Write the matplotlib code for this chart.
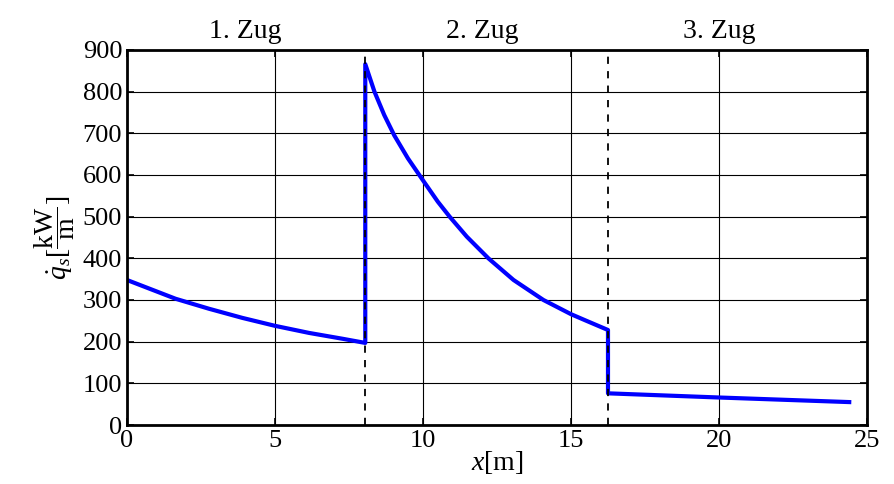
import matplotlib
matplotlib.use("Agg")
import matplotlib.pyplot as plt

plt.rcParams['font.family'] = ['Liberation Serif', 'DejaVu Serif']
plt.rcParams['mathtext.fontset'] = 'custom'
plt.rcParams['mathtext.rm'] = 'Liberation Serif'
plt.rcParams['mathtext.it'] = 'Liberation Serif:italic'

# Werte
x_zug1 = [0.0, 0.62, 1.64, 2.77, 3.9, 5.0, 6.15, 7.28, 8.05]
q_zug1 = [348, 331, 303, 279, 257, 238, 221, 207, 197]

x_zug2 = [8.05, 8.36, 8.69, 9.03, 9.49, 10.03, 10.5, 10.9, 11.48,
          12.21, 13.06, 14.07, 15.0, 15.49, 16.25]
q_zug2 = [866, 800, 744, 695, 640, 584, 536, 500, 452,
          400, 348, 300, 266, 251, 228]

x_zug3 = [16.25, 20.0, 24.4]
q_zug3 = [76, 66, 55]

grenzen = [8.05, 16.25]
zug_labels = ['1. Zug', '2. Zug', '3. Zug']
zug_pos = [4, 12, 20]

x_ticks = [0, 5, 10, 15, 20, 25]
y_ticks = [0, 100, 200, 300, 400, 500, 600, 700, 800, 900]

x_all = x_zug1 + x_zug2 + x_zug3
q_all = q_zug1 + q_zug2 + q_zug3

fig, ax = plt.subplots(figsize=(8.95, 4.84), dpi=100)
fig.subplots_adjust(left=0.1419, right=0.9687, top=0.8967, bottom=0.1219)

ax.grid(True, color='black', lw=0.8)
ax.set_axisbelow(True)
for g in grenzen:
    ax.axvline(g, color='black', ls=(0, (4, 4)), lw=1.3, zorder=3)
ax.plot(x_all, q_all, color='#0000ff', lw=3, zorder=2, solid_joinstyle='round')

ax.set_xlim(0, 25)
ax.set_ylim(0, 900)
ax.set_xticks(x_ticks)
ax.set_yticks(y_ticks)
ax.tick_params(direction='in', length=5, width=1.2, labelsize=19, top=True, right=True)
for s in ax.spines.values():
    s.set_linewidth(2)

for lbl, p in zip(zug_labels, zug_pos):
    ax.text(p, 915, lbl, ha='center', va='bottom', fontsize=20)

ax.set_xlabel(r'$x$[m]', fontsize=20, labelpad=-2)
ax.set_ylabel(r'$\dot{q}_s[\dfrac{\mathrm{kW}}{\mathrm{m}}]$', fontsize=20, labelpad=4)

fig.savefig('out.png', dpi=100)
